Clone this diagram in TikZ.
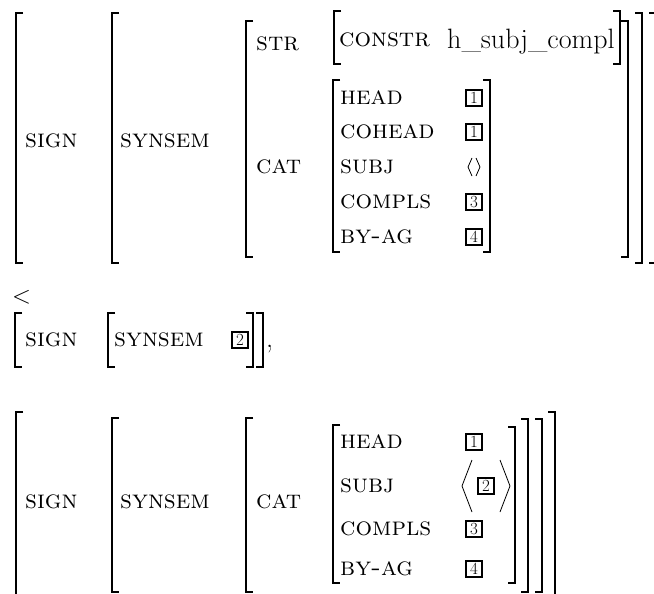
\documentclass[tikz,border=0pt]{standalone}
\usetikzlibrary{calc}
\newcommand\avmL[3]{\draw[brk] (#1+7,#2) -| (#1,#3) -- (#1+7,#3);}
\newcommand\avmR[3]{\draw[brk] (#1-7,#2) -| (#1,#3) -- (#1-7,#3);}
\tikzset{
  brk/.style={line width=2.2pt, line join=miter, line cap=butt},
  lab/.style={anchor=west, inner sep=0pt, font=\fontsize{26}{30}\selectfont\scshape},
  val/.style={anchor=base west, inner sep=0pt, font=\fontsize{28}{32}\selectfont},
  tag/.style={draw, line width=1.9pt, minimum size=16pt, inner sep=0pt, font=\fontsize{17}{19}\selectfont},
  ang/.style={line width=0.8pt, line join=miter}
}
\begin{document}
\begin{tikzpicture}[x=1pt, y=-1pt]
\useasboundingbox (0,0) rectangle (654,594);
% ---------- top AVM ----------
\avmL{16}{13}{263}
\avmL{112}{13}{263}
\avmL{246}{21}{257}
\node[lab] (s1) at (25,141) {sign};
\node[lab] (ss1) at (120,141) {synsem};
\node[lab] (str) at (256,44) {str};
\node[lab] (cat1) at (256,167) {cat};
\avmL{334}{11}{64}
\node[lab] (constr) at (339,40) {constr};
\node[val] (hsc) at (447,49) {h\_subj\_compl};
\avmR{620}{11}{64}
\avmL{333}{80}{252}
\node[lab] (head1) at (340,98) {head};
\node[lab] (cohead1) at (340,132) {cohead};
\node[lab] (subj1) at (340,167) {subj};
\node[lab] (compls1) at (340,202) {compls};
\node[lab] (byag1) at (340,237) {by-ag};
\node[tag] (t1a) at (474,98) {1};
\node[tag] (t1b) at (474,132) {1};
\coordinate (el) at (474,167);
\draw[ang] ($(el)+(-2,-9)$) -- ($(el)+(-6,0)$) -- ($(el)+(-2,9)$);
\draw[ang] ($(el)+(2,-9)$) -- ($(el)+(6,0)$) -- ($(el)+(2,9)$);
\node[tag] (t3a) at (474,202) {3};
\node[tag] (t4a) at (474,237) {4};
\avmR{490}{80}{252}
\avmR{628}{21}{257}
\avmR{642}{13}{263}
\avmR{656}{13}{263}
% ---------- middle ----------
\node[anchor=west, inner sep=0pt, font=\fontsize{28}{32}\selectfont] (lt) at (12,297) {$<$};
\avmL{15}{313}{367}
\node[lab] (s2) at (25,340) {sign};
\avmL{108}{313}{367}
\node[lab] (ss2) at (114,340) {synsem};
\node[tag] (t2a) at (240,340) {2};
\avmR{253}{313}{367}
\avmR{263}{313}{367}
\node[val] (comma) at (266,347) {,};
% ---------- bottom AVM ----------
\avmL{16}{412}{600}
\avmL{112}{418}{592}
\avmL{246}{418}{592}
\node[lab] (s3) at (25,502) {sign};
\node[lab] (ss3) at (120,502) {synsem};
\node[lab] (cat3) at (256,502) {cat};
\avmL{333}{425}{583}
\node[lab] (head3) at (340,442) {head};
\node[lab] (subj3) at (340,486) {subj};
\node[lab] (compls3) at (340,529) {compls};
\node[lab] (byag3) at (340,569) {by-ag};
\node[tag] (t1c) at (474,442) {1};
\node[tag] (t2b) at (486,486) {2};
\draw[ang] ($(t2b)+(-14,-26)$) -- ($(t2b)+(-24,0)$) -- ($(t2b)+(-14,26)$);
\draw[ang] ($(t2b)+(14,-26)$) -- ($(t2b)+(24,0)$) -- ($(t2b)+(14,26)$);
\node[tag] (t3b) at (474,529) {3};
\node[tag] (t4b) at (474,569) {4};
\avmR{515}{427}{583}
\avmR{528}{419}{592}
\avmR{542}{419}{592}
\avmR{555}{412}{600}
\end{tikzpicture}
\end{document}
